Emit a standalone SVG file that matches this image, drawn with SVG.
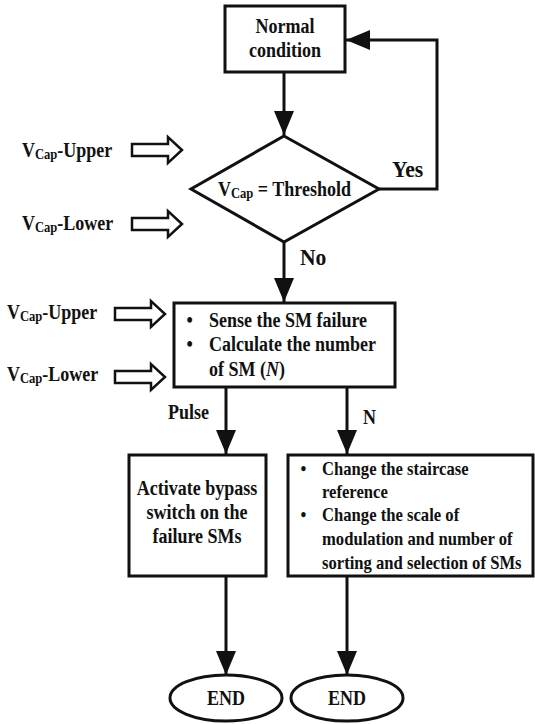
<svg xmlns="http://www.w3.org/2000/svg" width="535" height="724" viewBox="0 0 535 724">
<defs>
<style>
text{font-family:"Liberation Serif","Times New Roman",serif;font-weight:bold;fill:#111;}
.t{font-size:20px;}
.r{font-size:18.5px;}
.big{font-size:24px;}
.sub{font-size:14px;}
.shape{fill:#fff;stroke:#111;stroke-width:3;}
.line{fill:none;stroke:#111;stroke-width:3;}
.hollow{fill:#fff;stroke:#111;stroke-width:2.5;stroke-linejoin:miter;}
</style>
<marker id="ah" viewBox="0 0 24 20" refX="24" refY="10" markerWidth="24" markerHeight="20" markerUnits="userSpaceOnUse" orient="auto">
<path d="M0,0 L24,10 L0,20 Z" fill="#111"/>
</marker>
<path id="hol" d="M0,-6 L36,-6 L36,-13 L50,0 L36,13 L36,6 L0,6 Z"/>
</defs>

<g id="connectors">
<line class="line" x1="284" y1="72" x2="284" y2="135" marker-end="url(#ah)"/>
<polyline class="line" points="379,189 437,189 437,40 346,40" marker-end="url(#ah)"/>
<line class="line" x1="284" y1="242" x2="284" y2="302" marker-end="url(#ah)"/>
<line class="line" x1="226" y1="387" x2="226" y2="454" marker-end="url(#ah)"/>
<line class="line" x1="347" y1="387" x2="347" y2="454" marker-end="url(#ah)"/>
<line class="line" x1="226" y1="576" x2="226" y2="675" marker-end="url(#ah)"/>
<line class="line" x1="347" y1="576" x2="347" y2="675" marker-end="url(#ah)"/>
<text class="big" x="392" y="177" transform="matrix(0.9 0 0 1 39.2 0)">Yes</text>
<text class="big" x="300" y="265" transform="matrix(0.9 0 0 1 30 0)">No</text>
<text class="t" x="168" y="419" transform="matrix(0.9 0 0 1 16.8 0)">Pulse</text>
<text class="t" x="363" y="424" transform="matrix(0.9 0 0 1 36.3 0)">N</text>
</g>

<g id="inputs">
<g transform="matrix(0.9 0 0 1 2.2 0)">
<text class="t" x="22" y="157">V<tspan class="sub" dy="2">Cap</tspan><tspan dy="-2">-Upper</tspan></text>
<text class="t" x="22" y="230">V<tspan class="sub" dy="2">Cap</tspan><tspan dy="-2">-Lower</tspan></text>
</g>
<g transform="matrix(0.9 0 0 1 0.7 0)">
<text class="t" x="7" y="319">V<tspan class="sub" dy="2">Cap</tspan><tspan dy="-2">-Upper</tspan></text>
<text class="t" x="7" y="381">V<tspan class="sub" dy="2">Cap</tspan><tspan dy="-2">-Lower</tspan></text>
</g>
<use href="#hol" x="132" y="150" class="hollow"/>
<use href="#hol" x="132" y="224" class="hollow"/>
<use href="#hol" x="115" y="314" class="hollow"/>
<use href="#hol" x="115" y="377" class="hollow"/>
</g>

<g id="normal">
<rect class="shape" x="225" y="6" width="120" height="66"/>
<g transform="matrix(0.9 0 0 1 28.5 0)">
<text class="t" x="285" y="33" text-anchor="middle">Normal</text>
<text class="t" x="285" y="57" text-anchor="middle">condition</text>
</g>
</g>

<g id="decision">
<polygon class="shape" points="284,136 379,189 284,242 191,189"/>
<text class="t" x="218" y="196" transform="matrix(0.9 0 0 1 21.8 0)">V<tspan class="sub" dy="2">Cap</tspan><tspan dy="-2"> = Threshold</tspan></text>
</g>

<g id="sense">
<rect class="shape" x="174" y="303" width="221" height="84"/>
<g transform="matrix(0.9 0 0 1 20.9 0)">
<text class="t" x="184" y="327">•</text>
<text class="t" x="209" y="327">Sense the SM failure</text>
<text class="t" x="184" y="351">•</text>
<text class="t" x="209" y="351">Calculate the number</text>
<text class="t" x="209" y="376">of SM (<tspan font-style="italic">N</tspan>)</text>
</g>
</g>

<g id="bypass">
<rect class="shape" x="129" y="455" width="137" height="121"/>
<g transform="matrix(0.9 0 0 1 19.7 0)">
<text class="t" x="197" y="495" text-anchor="middle">Activate bypass</text>
<text class="t" x="197" y="519" text-anchor="middle">switch on the</text>
<text class="t" x="197" y="543" text-anchor="middle">failure SMs</text>
</g>
</g>

<g id="change">
<rect class="shape" x="288" y="455" width="245" height="121"/>
<g transform="matrix(0.9 0 0 1 32.2 0)">
<text class="r" x="298" y="475">•</text>
<text class="r" x="322" y="475">Change the staircase</text>
<text class="r" x="322" y="498">reference</text>
<text class="r" x="298" y="521">•</text>
<text class="r" x="322" y="521">Change the scale of</text>
<text class="r" x="322" y="545">modulation and number of</text>
<text class="r" x="322" y="569">sorting and selection of SMs</text>
</g>
</g>

<g id="end1">
<ellipse class="shape" cx="226" cy="698" rx="56" ry="23"/>
<text class="t" x="226" y="705" text-anchor="middle" transform="matrix(0.9 0 0 1 22.6 0)">END</text>
</g>
<g id="end2">
<ellipse class="shape" cx="347" cy="698" rx="56" ry="23"/>
<text class="t" x="347" y="705" text-anchor="middle" transform="matrix(0.9 0 0 1 34.7 0)">END</text>
</g>
</svg>
